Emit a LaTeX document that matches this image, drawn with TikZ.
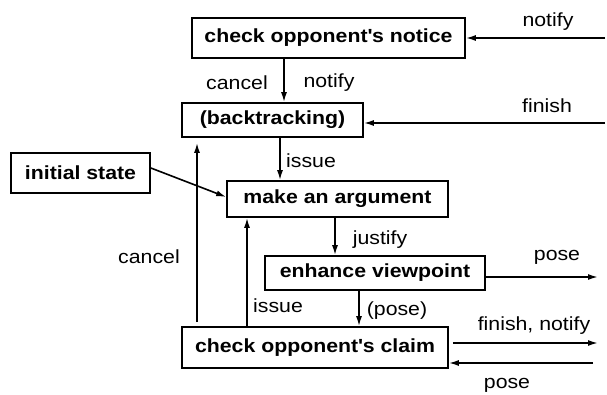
\documentclass[tikz,border=0pt]{standalone}
\usepackage{fontspec}
\setmainfont{Liberation Sans}[FakeStretch=1.12]
\usetikzlibrary{arrows.meta}
\begin{document}
\begin{tikzpicture}[x=1pt,y=-1pt,
  box/.style={draw, line width=1.7pt, inner sep=0pt, font=\fontsize{19}{22}\selectfont\bfseries},
  lbl/.style={inner sep=0pt, font=\fontsize{19}{22}\selectfont},
  arr/.style={line width=1.6pt, -{Latex[length=10pt,width=6pt]}}]
\useasboundingbox (0,0) rectangle (607,395);
\node[box, minimum width=273pt, minimum height=40pt] (notice) at (328.5,38) {check opponent\textquotesingle s notice};
\node[box, minimum width=181pt, minimum height=34pt] (back) at (272.5,120) {(backtracking)};
\node[box, minimum width=139pt, minimum height=40pt] (init) at (80.5,173) {initial state};
\node[box, minimum width=221pt, minimum height=36pt] (make) at (337.5,199) {make an argument};
\node[box, minimum width=220pt, minimum height=34pt] (enh) at (375,273) {enhance viewpoint};
\node[box, minimum width=266pt, minimum height=41pt] (claim) at (315,347.5) {check opponent\textquotesingle s claim};
% helper coordinates
\coordinate (xA) at (284,0);
\coordinate (xB) at (280,0);
\coordinate (xC) at (197,0);
\coordinate (xD) at (247,0);
\coordinate (xE) at (335,0);
\coordinate (xF) at (359,0);
\coordinate (inNotify) at (605,38);
\coordinate (inFinish) at (605,123);
\coordinate (outPose) at (598,277);
\coordinate (outFin) at (598,343);
\coordinate (inPose) at (593,363);
% connectors
\draw[arr] (inNotify) -- (notice.east |- inNotify);
\draw[arr] (notice.south -| xA) -- (back.north -| xA);
\draw[arr] (inFinish) -- (back.east |- inFinish);
\draw[arr] (back.south -| xB) -- (make.north -| xB);
\draw[arr] ([yshift=5pt]init.east) -- ([yshift=2pt]make.west);
\draw[arr, shorten <=4pt, shorten >=5pt] (claim.north -| xC) -- (back.south -| xC);
\draw[arr] (claim.north -| xD) -- (make.south -| xD);
\draw[arr] (make.south -| xE) -- (enh.north -| xE);
\draw[arr] (enh.east |- outPose) -- (outPose);
\draw[arr] (enh.south -| xF) -- (claim.north -| xF);
\draw[arr, shorten <=4pt] (claim.east |- outFin) -- (outFin);
\draw[arr] (inPose) -- (claim.east |- inPose);
% labels
\node[lbl] (l1) at (548,22) {notify};
\node[lbl] (l2) at (237,83) {cancel};
\node[lbl] (l3) at (329,83) {notify};
\node[lbl] (l4) at (547,106) {finish};
\node[lbl] (l5) at (311,161) {issue};
\node[lbl] (l6) at (380,240) {justify};
\node[lbl] (l7) at (557,257) {pose};
\node[lbl] (l8) at (149,257) {cancel};
\node[lbl] (l9) at (278,306) {issue};
\node[lbl] (l10) at (397,311) {(pose)};
\node[lbl] (l11) at (534,326) {finish, notify};
\node[lbl] (l12) at (507,385) {pose};
\end{tikzpicture}
\end{document}
